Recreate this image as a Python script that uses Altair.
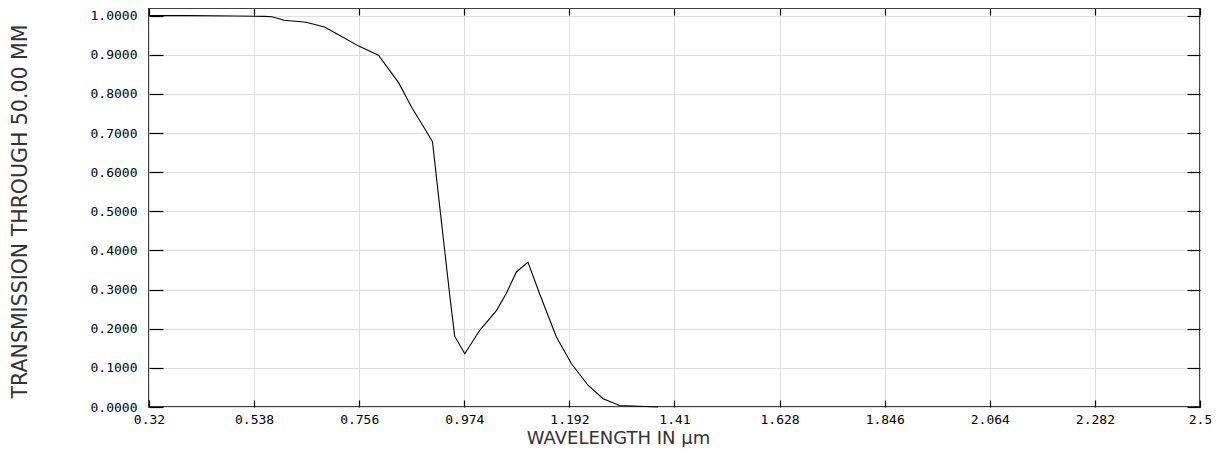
import altair as alt
import pandas as pd

# Data
wavelength = [0.32, 0.40, 0.50, 0.56, 0.575, 0.60, 0.646, 0.684, 0.715, 0.755,
              0.796, 0.838, 0.865, 0.892, 0.908, 0.923, 0.945, 0.954, 0.975,
              1.006, 1.041, 1.061, 1.082, 1.106, 1.130, 1.165, 1.196, 1.231,
              1.262, 1.296, 1.376]
transmission = [1.0, 1.0, 0.999, 0.998, 0.997, 0.988, 0.983, 0.971, 0.950, 0.922,
                 0.899, 0.828, 0.765, 0.711, 0.678, 0.512, 0.273, 0.181, 0.136,
                 0.196, 0.247, 0.290, 0.345, 0.370, 0.290, 0.179, 0.111, 0.055,
                 0.021, 0.004, 0.0]

x_ticks = [0.32, 0.538, 0.756, 0.974, 1.192, 1.41, 1.628, 1.846, 2.064, 2.282, 2.5]
y_ticks = [0.0, 0.1, 0.2, 0.3, 0.4, 0.5, 0.6, 0.7, 0.8, 0.9, 1.0]

x_title = "WAVELENGTH IN μm"
y_title = "TRANSMISSION THROUGH 50.00 MM"

df = pd.DataFrame({"wl": wavelength, "t": transmission})

xscale = alt.Scale(domain=[0.32, 2.5], nice=False, zero=False)
yscale = alt.Scale(domain=[0, 1.0194], nice=False, zero=False)

label_font = "DejaVu Sans Mono"
title_font = "DejaVu Sans"

base = alt.Chart(df)

main = base.mark_line(color="black", strokeWidth=1.1).encode(
    x=alt.X("wl:Q", scale=xscale,
            axis=alt.Axis(orient="bottom", values=x_ticks, format=".3~f",
                          title=x_title, offset=-7, tickSize=7, domain=False,
                          grid=True, labelPadding=6, titlePadding=3,
                          labelFlush=False, titleX=469, titleAlign="center")),
    y=alt.Y("t:Q", scale=yscale,
            axis=alt.Axis(orient="left", values=y_ticks, format=".4f",
                          title=y_title, offset=-14, tickSize=14, domain=False,
                          grid=True, labelPadding=12, titlePadding=60,
                          titleY=203, titleAlign="center")),
)

frame = base.mark_line(opacity=0).encode(
    x=alt.X("wl:Q", scale=xscale,
            axis=alt.Axis(orient="top", values=x_ticks, labels=False, title=None,
                          offset=-7, tickSize=7, domain=False, grid=False)),
    y=alt.Y("t:Q", scale=yscale,
            axis=alt.Axis(orient="right", values=y_ticks, labels=False, title=None,
                          offset=-13, tickSize=13, domain=False, grid=False)),
)

chart = (
    alt.layer(main, frame)
    .resolve_axis(x="independent", y="independent")
    .properties(
        width=1051,
        height=399,
        padding={"left": 141, "top": 0, "right": 11, "bottom": 40},
        autosize=alt.AutoSizeParams(type="none"),
        background="white",
    )
    .configure_view(stroke="black", strokeWidth=1.5)
    .configure_axis(
        labelFont=label_font,
        labelFontSize=13,
        labelColor="black",
        tickColor="black",
        tickWidth=1.2,
        gridColor="#dedede",
        gridWidth=1,
        titleFont=title_font,
        titleFontWeight="normal",
        titleColor="#333333",
    )
    .configure_axisBottom(titleFontSize=18)
    .configure_axisLeft(titleFontSize=20.5)
)

chart.save("out.html", embed_options={"renderer": "svg", "actions": False})
